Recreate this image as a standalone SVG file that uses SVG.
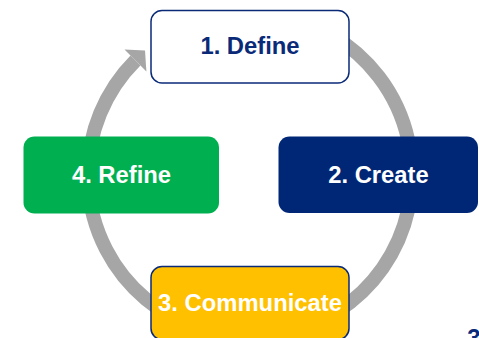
<svg xmlns="http://www.w3.org/2000/svg" width="479" height="338" viewBox="0 0 479 338">
<style>
.lbl{font-family:"Liberation Sans",Arial,sans-serif;font-weight:bold;font-size:23.8px;text-anchor:middle}
.w{fill:#ffffff}
.n{fill:#0a2a78}
.ring{fill:none;stroke:#a6a6a6;stroke-width:14}
</style>
<rect width="479" height="338" fill="#ffffff"/>
<g id="connectors">
<path class="ring" d="M331,34.7 A162,162 0 1 1 135.45,60.45"/>
<polygon points="124.5,49.5 146.4,71.4 145,50.5" fill="#a6a6a6"/>
</g>
<g id="node-define">
<rect x="151" y="10.5" width="198" height="72.5" rx="11" fill="#ffffff" stroke="#0a2a78" stroke-width="1.5"/>
<text class="lbl n" x="250" y="54">1. Define</text>
</g>
<g id="node-create">
<rect x="278.5" y="136.5" width="199.5" height="76.5" rx="11" fill="#002776"/>
<text class="lbl w" x="378.5" y="182.5">2. Create</text>
</g>
<g id="node-communicate">
<rect x="151" y="266.5" width="198" height="73" rx="11" fill="#ffc000" stroke="#0a2a78" stroke-width="1.5"/>
<text class="lbl w" x="250" y="311">3. Communicate</text>
</g>
<g id="node-refine">
<rect x="23.5" y="136.5" width="195.5" height="77" rx="11" fill="#00b050"/>
<text class="lbl w" x="121.5" y="182.5">4. Refine</text>
</g>
<text class="lbl n" x="474" y="346" style="font-size:24px">3</text>
</svg>
